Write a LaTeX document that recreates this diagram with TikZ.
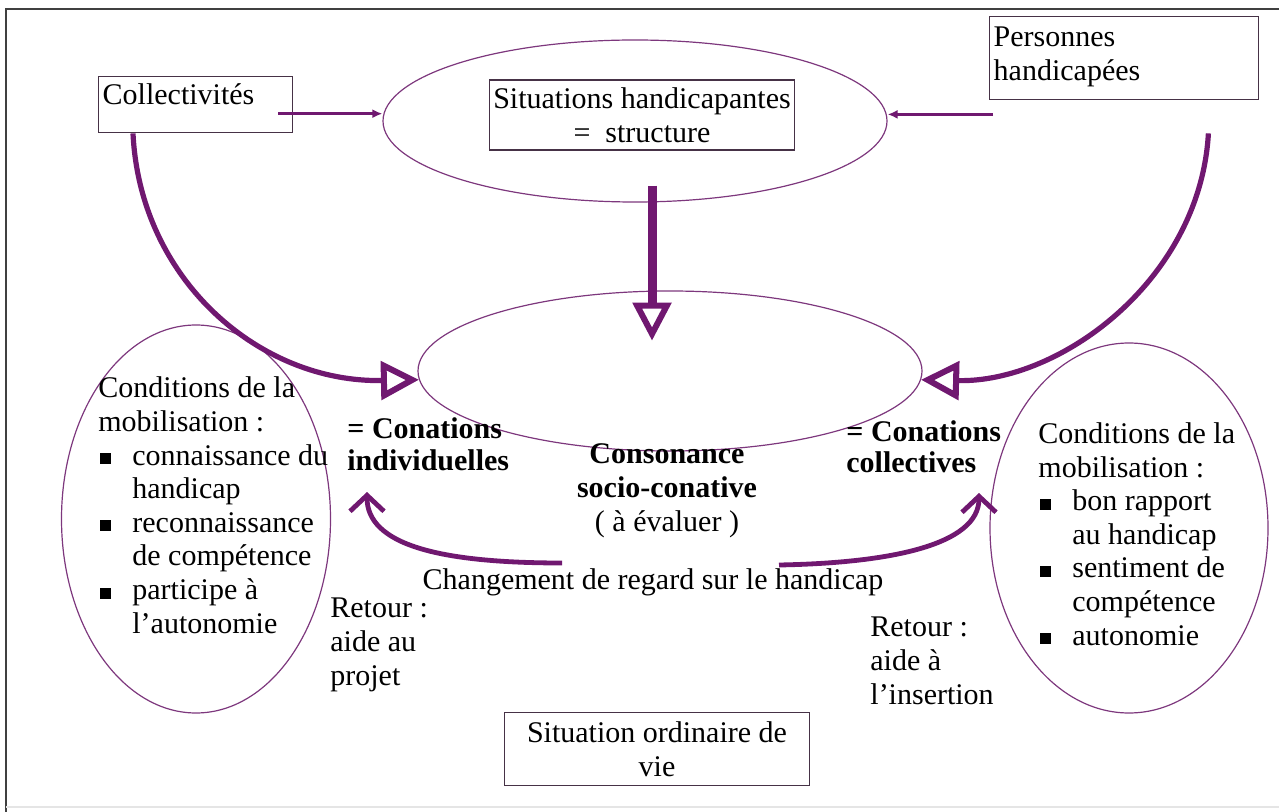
\documentclass[tikz,border=0pt]{standalone}
\usepackage{fontspec}
\setmainfont{Liberation Serif}
\usepackage{tikz}
\usetikzlibrary{positioning,shapes.geometric,arrows.meta,calc}
\definecolor{arrowpurple}{RGB}{112,24,112}
\definecolor{ellpurple}{RGB}{125,55,125}
\definecolor{boxline}{RGB}{70,50,70}
\newcommand{\mainfnt}{\fontsize{15}{16.8}\selectfont}
\newcommand{\sqitem}{\makebox[17pt][l]{\hspace*{1pt}\rule[0.4pt]{5.5pt}{5.5pt}}}
\newcommand{\sqcont}{\hspace*{17pt}}

\begin{document}
\begin{tikzpicture}[x=0.5pt,y=-0.5pt,
    ell/.style={ellipse, draw=ellpurple, line width=0.6pt, inner sep=0pt},
    boxnode/.style={rectangle, draw=boxline, line width=0.7pt, inner sep=2pt, font=\mainfnt},
    txt/.style={inner sep=0pt, font=\mainfnt, align=left},
    thinarrow/.style={arrowpurple, line width=1.6pt, -{Latex[length=5pt,width=4.5pt]}},
    bigarrow/.style={arrowpurple, line width=2.6pt, -{Triangle[open,length=19pt,width=19pt,line width=3pt]}},
    backarrow/.style={arrowpurple, line width=2.4pt, -{Straight Barb[length=8pt,width=17pt]}}]
    \useasboundingbox (0,0) rectangle (1279,812);
    % Frame
    \draw[black!75, line width=1.3pt] (1279,9) -- (6,9) -- (6,812);
    \draw[black!10, line width=0.6pt] (6,807) -- (1279,807);
    % Ellipses
    \node[ell, minimum width=252pt, minimum height=81pt] (topell) at (635,121) {};
    \node[ell, minimum width=252pt, minimum height=80pt] (midell) at (670,371) {};
    \node[ell, minimum width=134.5pt, minimum height=194pt] (leftell) at (196,519) {};
    \node[ell, minimum width=139pt, minimum height=185pt] (rightell) at (1129,528) {};
    % Boxes
    \node[boxnode, anchor=north west, text width=93pt, text height=12pt, text depth=12pt] (coll) at (98,76) {Collectivités};
    \node[boxnode, anchor=north west, text width=130.5pt, text height=13pt, text depth=24.5pt] (pers) at (989,16) {Personnes\\handicapées};
    \node[boxnode, align=center, minimum width=152.5pt, minimum height=35pt] (struct) at (642,115) {Situations handicapantes\\=\ \ structure};
    \node[boxnode, align=center, minimum width=152.5pt, minimum height=36.5pt] (ordin) at (657,749) {Situation ordinaire de\\vie};
    % Texts (base = last line)
    \node[txt, anchor=base west] (condL) at (98,633) {Conditions de la\\mobilisation :\\\sqitem connaissance du\\\sqcont handicap\\\sqitem reconnaissance\\\sqcont de compétence\\\sqitem participe à\\\sqcont l’autonomie};
    \node[txt, anchor=base west] (condR) at (1038,645) {Conditions de la\\mobilisation :\\\sqitem bon rapport\\\sqcont au handicap\\\sqitem sentiment de\\\sqcont compétence\\\sqitem autonomie};
    \node[txt, anchor=base west, font=\fontsize{15}{15.8}\selectfont\bfseries] (indiv) at (347,470) {= Conations\\individuelles};
    \node[txt, anchor=base west, font=\fontsize{15}{15.8}\selectfont\bfseries] (collec) at (846,473) {= Conations\\collectives};
    \node[txt, align=center, anchor=base] (conso) at (667,531) {\textbf{Consonance}\\\textbf{socio-conative}\\( à évaluer )};
    \node[txt, anchor=base] (regard) at (653,589) {Changement de regard sur le handicap};
    \node[txt, anchor=base west] (retL) at (330,685) {Retour :\\aide au\\projet};
    \node[txt, anchor=base west] (retR) at (870,704) {Retour :\\aide à\\l’insertion};
    % Thin arrows into the structure
    \coordinate (collout) at ($(coll.east)+(-15,9)$);
    \coordinate (persout) at ($(pers.south west)+(4,14)$);
    \draw[thinarrow] (collout) -- (collout -| topell.west);
    \draw[thinarrow] (persout) -- (persout -| topell.east);
    % Structure feeds the consonance
    \draw[bigarrow, line width=4.5pt] ($(topell.south)+(17,-17)$) -- ($(topell.south)+(17,138)$);
    % Groups feed the conations
    \draw[bigarrow] ($(coll.south west)+(35,0)$) .. controls (140,280) and (260,383) .. (midell.182);
    \draw[bigarrow] ($(pers.south east)+(-51,33)$) .. controls (1200,280) and (1060,383) .. (midell.358);
    % Feedback to the conations
    \coordinate (gapL) at (562,563);
    \coordinate (gapR) at (779,565);
    \coordinate (tipL) at (367,492);
    \coordinate (tipR) at (979,493);
    \draw[backarrow] (gapL) .. controls (440,563) and (367,545) .. (tipL);
    \draw[backarrow] (gapR) .. controls (890,563) and (979,545) .. (tipR);
\end{tikzpicture}
\end{document}
